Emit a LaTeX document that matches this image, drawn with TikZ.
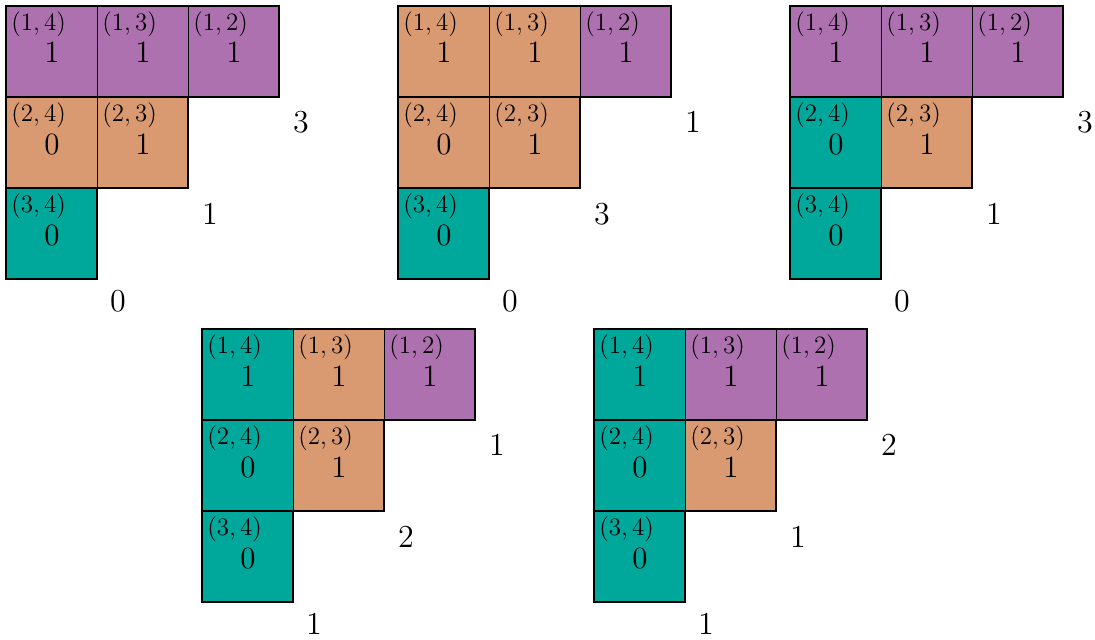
\documentclass[tikz,border=0pt]{standalone}
\usepackage{fix-cm}
\definecolor{pur}{RGB}{174,113,175}
\definecolor{ora}{RGB}{217,154,114}
\definecolor{tea}{RGB}{0,168,156}
\tikzset{
 cellbox/.style={draw=black, line width=0.5pt, anchor=north west, minimum width=45.5pt, minimum height=45.5pt, inner sep=0pt, outer sep=0pt},
 rowbox/.style={draw=black, line width=1.1pt},
 pairlbl/.style={anchor=west, inner sep=0pt, font=\fontsize{12.5}{14}\selectfont},
 vallbl/.style={inner sep=0pt, font=\fontsize{15.5}{18}\selectfont},
 sidelbl/.style={inner sep=0pt, font=\fontsize{16}{19}\selectfont},
}
\newcommand\stair[7]{%
 \foreach \r/\c/\col/\v in {#4}{%
  \pgfmathtruncatemacro\jj{5-\c}%
  \node[cellbox, fill=\col] (#1-\r\c) at (#2+\c*91-91, #3+\r*91-91) {};
  \node[pairlbl] (#1-p\r\c) at ([shift={(5,18)}]#1-\r\c.north west) {$(\r,\jj)$};
  \node[vallbl] (#1-v\r\c) at ([shift={(46,47)}]#1-\r\c.north west) {$\v$};
 }
 \draw[rowbox] (#1-11.north west) rectangle (#1-13.south east);
 \draw[rowbox] (#1-21.north west) rectangle (#1-22.south east);
 \draw[rowbox] (#1-31.north west) rectangle (#1-31.south east);
 \node[sidelbl] (#1-s1) at ([shift={(22,25)}]#1-13.south east) {$#5$};
 \node[sidelbl] (#1-s2) at ([shift={(22,26)}]#1-22.south east) {$#6$};
 \node[sidelbl] (#1-s3) at ([shift={(21,22.5)}]#1-31.south east) {$#7$};
}
\begin{document}
\begin{tikzpicture}[x=0.5pt,y=-0.5pt]
\useasboundingbox (0,0) rectangle (1095,639);
\stair{A}{6}{6}{1/1/pur/1,1/2/pur/1,1/3/pur/1,2/1/ora/0,2/2/ora/1,3/1/tea/0}{3}{1}{0}
\stair{B}{398}{6}{1/1/ora/1,1/2/ora/1,1/3/pur/1,2/1/ora/0,2/2/ora/1,3/1/tea/0}{1}{3}{0}
\stair{C}{790}{6}{1/1/pur/1,1/2/pur/1,1/3/pur/1,2/1/tea/0,2/2/ora/1,3/1/tea/0}{3}{1}{0}
\stair{D}{202}{329}{1/1/tea/1,1/2/ora/1,1/3/pur/1,2/1/tea/0,2/2/ora/1,3/1/tea/0}{1}{2}{1}
\stair{E}{594}{329}{1/1/tea/1,1/2/pur/1,1/3/pur/1,2/1/tea/0,2/2/ora/1,3/1/tea/0}{2}{1}{1}
\end{tikzpicture}
\end{document}
